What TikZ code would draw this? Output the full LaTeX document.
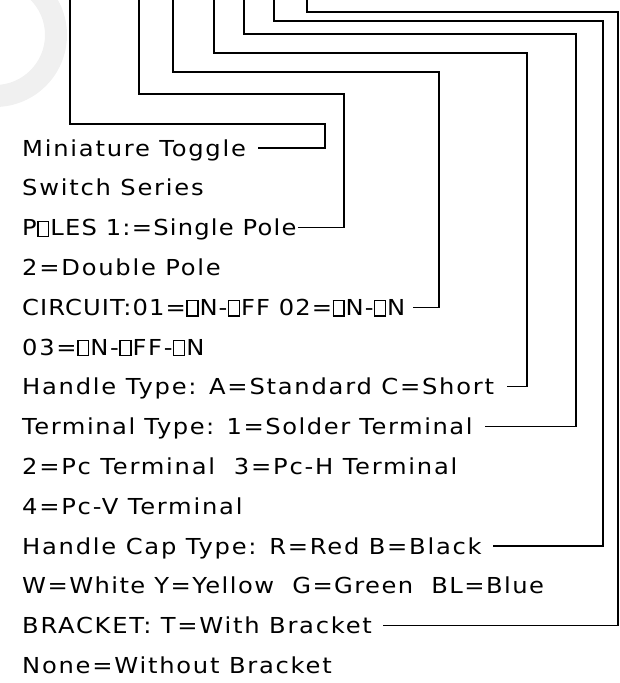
\documentclass[tikz,border=0pt]{standalone}
\usepackage{fontspec}
\newfontfamily\cadfont{DejaVu Sans}[LetterSpace=8,FakeStretch=1.1]
\newcommand\obox{\kern0.5pt{\setlength\fboxsep{0pt}\setlength\fboxrule{1.3pt}\fbox{\rule{0pt}{13.8pt}\hspace{9.5pt}}}\kern1pt}
\newcommand\ls[1]{\addfontfeature{LetterSpace=#1}}
\begin{document}
\begin{tikzpicture}[x=1pt,y=-1pt,
  lbl/.style={anchor=base west,inner sep=0pt,font=\cadfont\fontsize{22pt}{26pt}\selectfont},
  conn/.style={line width=1.2pt,black}]
\useasboundingbox (0,0) rectangle (619,683);
\begin{scope}
\clip (0,0) rectangle (619,683);
\fill[black!6,even odd rule] (-5,35) circle (72pt) (-5,35) circle (50pt);
\end{scope}
% text rows
\foreach \i/\t in {0/{Miniature Toggle},1/{Switch Series},2/{\ls{5.5}P\obox LES 1:=Single Pole},3/{2=Double Pole},
  4/{\ls{5}CIRCUIT:01=\obox N-\obox FF 02=\obox N-\obox N},5/{03=\obox N-\obox FF-\obox N},
  6/{Handle Type: A=Standard C=Short},7/{\ls{7}Terminal Type: 1=Solder Terminal},
  8/{2=Pc Terminal\ \ 3=Pc-H Terminal},9/{4=Pc-V Terminal},
  10/{Handle Cap Type: R=Red B=Black},11/{\ls{6.5}W=White Y=Yellow\ \ G=Green\ \ BL=Blue},
  12/{BRACKET: T=With Bracket},13/{None=Without Bracket}}
  {\node[lbl] (t\i) at (22,156+39.8*\i) {\t};}
% connector coordinates
\coordinate (topA) at (70,0);  \coordinate (bendA) at (325,124); \coordinate (endA) at (258,148);
\coordinate (topB) at (139,0); \coordinate (bendB) at (344,94);  \coordinate (endB) at (298,227.6);
\coordinate (topC) at (173,0); \coordinate (bendC) at (439,72);  \coordinate (endC) at (413,307.2);
\coordinate (topD) at (214,0); \coordinate (bendD) at (527,53);  \coordinate (endD) at (507,386.8);
\coordinate (topE) at (244,0); \coordinate (bendE) at (576,34);  \coordinate (endE) at (485,426.6);
\coordinate (topF) at (274,0); \coordinate (bendF) at (603,21);  \coordinate (endF) at (493,546);
\coordinate (topG) at (307,0); \coordinate (bendG) at (618,12);  \coordinate (endG) at (383,625.6);
\foreach \c in {A,B,C,D,E,F,G}
  {\draw[conn] (top\c) |- (bend\c) |- (end\c);}
\end{tikzpicture}
\end{document}
